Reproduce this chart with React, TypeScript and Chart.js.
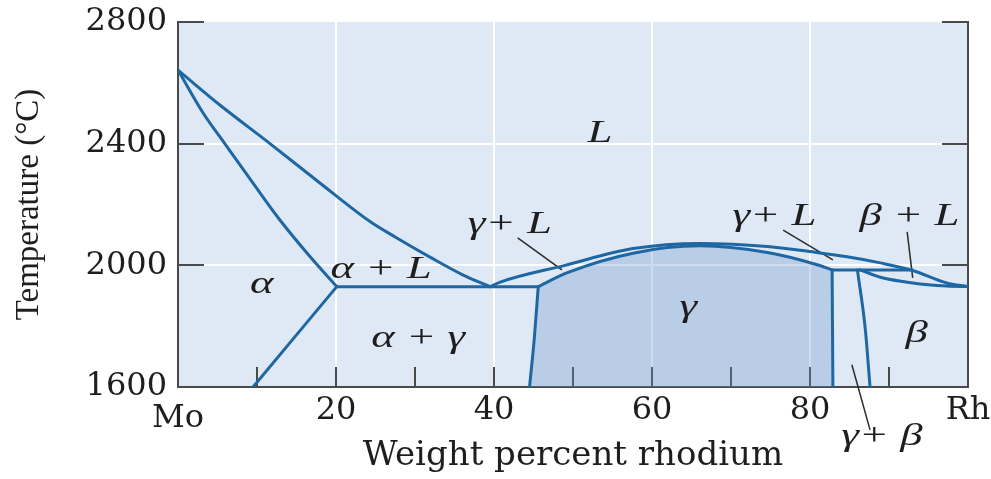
import React, { useEffect, useRef } from "react";
import { Chart, registerables } from "chart.js";

Chart.register(...registerables);

type Pt = [number, number];

// Phase boundaries of the Mo–Rh system: [wt% Rh, temperature °C]
const liquidusAlpha: Pt[] = [[0, 2642], [5.3, 2527], [11.6, 2401], [18, 2270], [24.3, 2144], [27.7, 2090], [31.9, 2027], [36.1, 1968], [39.5, 1930]];
const solidusAlpha: Pt[] = [[0, 2642], [3.2, 2500], [5.9, 2401], [9.5, 2270], [12.9, 2149], [16.7, 2029], [20.1, 1930]];
const solvusAlpha: Pt[] = [[9.5, 1600], [20.1, 1930]];
const eutecticLine: Pt[] = [[20.1, 1930], [45.6, 1930]];
const gammaLeft: Pt[] = [[44.5, 1600], [45.1, 1760], [45.6, 1930]];
const gammaSolidus: Pt[] = [[45.6, 1930], [49.2, 1975], [57.6, 2040], [66.1, 2064], [74.6, 2042], [80.9, 2002], [82.8, 1985]];
const gammaRight: Pt[] = [[82.8, 1985], [82.9, 1600]];
const liquidusUpper: Pt[] = [[39.5, 1930], [40.8, 1945], [49, 2000], [57.6, 2055], [66.1, 2072], [74.6, 2062], [80.9, 2042], [84.7, 2028], [88.9, 2008], [93, 1983], [97.3, 1942], [100, 1930]];
const peritecticLine: Pt[] = [[82.8, 1985], [93, 1985]];
const betaLeft: Pt[] = [[86, 1985], [87, 1790], [87.6, 1600]];
const betaSolidus: Pt[] = [[86.3, 1985], [88.9, 1961], [93, 1942], [97.3, 1932], [100, 1930]];

// Leader lines from the two-phase labels into their fields
const leaderGammaLLeft: Pt[] = [[43.0, 2090], [48.6, 1985]];
const leaderGammaLRight: Pt[] = [[76.6, 2116], [82.9, 2018]];
const leaderBetaL: Pt[] = [[92.3, 2110], [93.0, 1959]];
const leaderGammaBeta: Pt[] = [[85.3, 1673], [87.6, 1459]];

// Phase field labels (text, wt% Rh at centre, baseline temperature)
const phaseText = ["L", "α", "α + L", "α + γ", "γ+ L", "γ", "γ+ L", "β + L", "β", "γ+ β"];
const phaseX = [53.4, 10.6, 25.7, 30.4, 42.0, 64.6, 75.5, 92.6, 93.5, 89.1];
const phaseT = [2406, 1909, 1958, 1732, 2106, 1834, 2133, 2133, 1748, 1410];

// Axes
const xTickValues = [0, 20, 40, 60, 80, 100];
const xTickLabels = ["Mo", "20", "40", "60", "80", "Rh"];
const xGridValues = [20, 40, 60, 80];
const xInnerTicks = [10, 20, 30, 40, 50, 60, 70, 80, 90];
const yGridValues = [2000, 2400];
const yInnerTicks = [2000, 2400, 2800];
const xTitle = "Weight percent rhodium";
const yTitle = "Temperature (°C)";

const BG = "#dfe9f5";
const GRID = "#ffffff";
const LINE = "#1f67a3";
const AXIS = "#4a4a4a";
const TEXT = "#1e1e1e";
const GAMMA_FILL = "rgba(105,145,200,0.32)";
const SERIF_WIDE = '"DejaVu Serif", serif';

const toXY = (pts: Pt[]) => pts.map(([x, y]) => ({ x, y }));

export default function App() {
  const ref = useRef<HTMLCanvasElement>(null);

  useEffect(() => {
    const canvas = ref.current;
    if (!canvas) return;

    const boundary = (pts: Pt[]) => ({
      data: toXY(pts),
      showLine: true,
      borderColor: LINE,
      borderWidth: 3,
      pointRadius: 0,
      fill: false,
      cubicInterpolationMode: "monotone" as const,
      borderCapStyle: "round" as const,
      borderJoinStyle: "round" as const,
      order: 0,
    });
    const leader = (pts: Pt[]) => ({
      data: toXY(pts),
      showLine: true,
      borderColor: "#2b2b2b",
      borderWidth: 1.5,
      pointRadius: 0,
      fill: false,
      clip: false as const,
      order: 0,
    });

    const gammaOutline: Pt[] = [...gammaLeft, ...gammaSolidus.slice(1), gammaRight[1]];

    const datasets: any[] = [
      {
        data: toXY(gammaOutline),
        showLine: true,
        borderWidth: 0,
        borderColor: "rgba(0,0,0,0)",
        backgroundColor: GAMMA_FILL,
        pointRadius: 0,
        fill: "start",
        order: 1,
      },
      boundary(liquidusAlpha),
      boundary(solidusAlpha),
      boundary(solvusAlpha),
      boundary(eutecticLine),
      boundary(gammaLeft),
      boundary(gammaSolidus),
      boundary(gammaRight),
      boundary(liquidusUpper),
      boundary(peritecticLine),
      boundary(betaLeft),
      boundary(betaSolidus),
      leader(leaderGammaLLeft),
      leader(leaderGammaLRight),
      leader(leaderBetaL),
      leader(leaderGammaBeta),
    ];

    const plotBackground = {
      id: "plotBackground",
      beforeDraw(chart: any) {
        const { ctx, chartArea: a } = chart;
        ctx.save();
        ctx.fillStyle = BG;
        ctx.fillRect(a.left, a.top, a.right - a.left, a.bottom - a.top);
        ctx.restore();
      },
    };

    const innerTicks = {
      id: "innerTicks",
      beforeDatasetsDraw(chart: any) {
        const { ctx, chartArea: a, scales } = chart;
        ctx.save();
        ctx.strokeStyle = AXIS;
        ctx.lineWidth = 2;
        ctx.beginPath();
        for (const v of xInnerTicks) {
          const px = Math.round(scales.x.getPixelForValue(v));
          ctx.moveTo(px, a.bottom);
          ctx.lineTo(px, a.bottom - 20);
        }
        for (const v of yInnerTicks) {
          const py = Math.round(scales.y.getPixelForValue(v));
          ctx.moveTo(a.left, py);
          ctx.lineTo(a.left + 26, py);
          ctx.moveTo(a.right, py);
          ctx.lineTo(a.right - 26, py);
        }
        ctx.stroke();
        ctx.restore();
      },
    };

    const phaseLabels = {
      id: "phaseLabels",
      afterDraw(chart: any) {
        const { ctx, scales } = chart;
        ctx.save();
        ctx.fillStyle = TEXT;
        ctx.font = 'italic 32px "Liberation Serif", "Times New Roman", serif';
        ctx.textAlign = "center";
        ctx.textBaseline = "alphabetic";
        phaseText.forEach((t, i) => {
          const px = scales.x.getPixelForValue(phaseX[i]);
          const py = scales.y.getPixelForValue(phaseT[i]);
          ctx.save();
          ctx.translate(px, py);
          ctx.scale(1.4, 1);
          ctx.fillText(t, 0, 0);
          ctx.restore();
        });
        ctx.restore();
      },
    };

    const chart = new Chart(canvas, {
      type: "scatter",
      data: { datasets },
      options: {
        animation: false,
        responsive: true,
        maintainAspectRatio: false,
        events: [],
        layout: { padding: { top: 22, right: 0, bottom: 0, left: 0 } },
        plugins: {
          legend: { display: false },
          tooltip: { enabled: false },
        },
        scales: {
          x: {
            type: "linear",
            position: "bottom",
            min: 0,
            max: 100,
            afterFit: (s: any) => {
              s.height = 92;
            },
            afterBuildTicks: (s: any) => {
              s.ticks = xTickValues.map((value) => ({ value }));
            },
            ticks: {
              autoSkip: false,
              maxRotation: 0,
              padding: 0,
              color: TEXT,
              // the element symbol at the origin sits a little lower than the numbers
              font: (c: any) => ({
                family: SERIF_WIDE,
                size: 32,
                lineHeight: c.tick && c.tick.value === 0 ? 2.0 : 1.5,
              }),
              callback: (v: any) => xTickLabels[xTickValues.indexOf(Number(v))] ?? "",
            },
            grid: {
              drawTicks: false,
              lineWidth: 2,
              color: (c: any) => (xGridValues.includes(c.tick?.value) ? GRID : "rgba(0,0,0,0)"),
            },
            border: { display: true, color: AXIS, width: 2 },
            title: {
              display: true,
              text: xTitle,
              color: TEXT,
              font: { family: SERIF_WIDE, size: 34, lineHeight: 1 },
              padding: { top: 0, bottom: 6 },
            },
          },
          y: {
            type: "linear",
            position: "left",
            min: 1600,
            max: 2800,
            afterFit: (s: any) => {
              s.width = 178;
            },
            ticks: {
              stepSize: 400,
              padding: 11,
              color: TEXT,
              font: { family: SERIF_WIDE, size: 32, lineHeight: 0.5 },
              callback: (v: any) => String(v),
            },
            grid: {
              drawTicks: false,
              lineWidth: 2,
              color: (c: any) => (yGridValues.includes(c.tick?.value) ? GRID : "rgba(0,0,0,0)"),
            },
            border: { display: true, color: AXIS, width: 2 },
            title: {
              display: true,
              text: yTitle,
              color: TEXT,
              font: { family: '"Liberation Serif", serif', size: 33 },
              padding: { top: 10, bottom: 0 },
            },
          },
          y2: {
            type: "linear",
            position: "right",
            min: 1600,
            max: 2800,
            afterFit: (s: any) => {
              s.width = 23;
            },
            ticks: { display: false },
            grid: { display: false, drawTicks: false },
            border: { display: true, color: AXIS, width: 2 },
          },
        },
      } as any,
      plugins: [plotBackground, innerTicks, phaseLabels],
    });

    return () => chart.destroy();
  }, []);

  return (
    <div style={{ position: "fixed", left: 0, top: 0, width: 991, height: 479, background: "#ffffff" }}>
      <canvas ref={ref} />
    </div>
  );
}
